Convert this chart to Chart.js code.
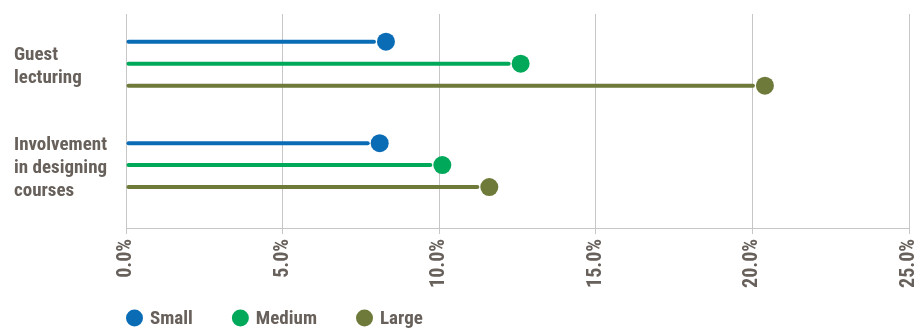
<!DOCTYPE html>
<html>
<head>
<meta charset="utf-8">
<title>Guest lecturing and course design by size</title>
<script src="https://cdn.jsdelivr.net/npm/chart.js@4/dist/chart.umd.min.js"></script>
<style>
  html, body { margin: 0; padding: 0; background: #ffffff; }
  #wrap { width: 921px; height: 330px; }
</style>
</head>
<body>
<div id="wrap"><canvas id="chart" width="921" height="330"></canvas></div>
<script>
// Categories (multi-line labels) and one value list per size group, in percent
const categories = [
  ['Guest', 'lecturing'],
  ['Involvement', 'in designing', 'courses']
];
const seriesNames = ['Small', 'Medium', 'Large'];
const small  = [8.3, 8.1];
const medium = [12.6, 10.1];
const large  = [20.4, 11.6];
const xTicks = [0, 5, 10, 15, 20, 25];

const seriesValues = [small, medium, large];
const seriesColors = ['#0b6cb6', '#00a85a', '#6d7a39'];
const textColor = '#67605b';
const gridColor = '#c6c6c6';
const fontFamily = '"Roboto Condensed", "Open Sans", sans-serif';

const DOT_R = 9;
const STEM_GAP = 12;

// Stems: drawn from each bar element's base to just short of its value
// Dots: drawn at each bar element's value, on top of the grid
const lollipop = {
  id: 'lollipop',
  beforeDatasetDraw(chart, args) {
    const ctx = chart.ctx;
    const color = chart.data.datasets[args.index].backgroundColor;
    ctx.save();
    ctx.strokeStyle = color;
    ctx.lineWidth = 4;
    ctx.lineCap = 'round';
    args.meta.data.forEach(el => {
      const p = el.getProps(['x', 'y', 'base'], true);
      ctx.beginPath();
      ctx.moveTo(p.base + 2, p.y);
      ctx.lineTo(p.x - STEM_GAP, p.y);
      ctx.stroke();
    });
    ctx.restore();
    return false;
  },
  afterDraw(chart) {
    const ctx = chart.ctx;
    ctx.save();
    chart.data.datasets.forEach((ds, i) => {
      const meta = chart.getDatasetMeta(i);
      ctx.fillStyle = ds.backgroundColor;
      meta.data.forEach(el => {
        const p = el.getProps(['x', 'y'], true);
        ctx.beginPath();
        ctx.arc(p.x, p.y, DOT_R, 0, Math.PI * 2);
        ctx.fill();
      });
    });

    // Legend row under the axis labels
    const cy = 318;
    let x = chart.chartArea.left;
    ctx.font = 'bold 19px ' + fontFamily;
    ctx.textBaseline = 'middle';
    ctx.textAlign = 'left';
    chart.data.datasets.forEach(ds => {
      ctx.fillStyle = ds.backgroundColor;
      ctx.beginPath();
      ctx.arc(x + 8.5, cy, 8.5, 0, Math.PI * 2);
      ctx.fill();
      ctx.fillStyle = textColor;
      ctx.fillText(ds.label, x + 24, cy + 1);
      x += 24 + ctx.measureText(ds.label).width + 39;
    });
    ctx.restore();
  }
};

new Chart(document.getElementById('chart'), {
  type: 'bar',
  data: {
    datasets: seriesNames.map((name, k) => ({
      label: name,
      data: seriesValues[k].map((v, i) => ({ x: v, y: i })),
      backgroundColor: seriesColors[k],
      categoryPercentage: 0.65,
      barPercentage: 0.2
    }))
  },
  options: {
    indexAxis: 'y',
    responsive: false,
    animation: false,
    devicePixelRatio: 1,
    layout: { padding: { top: 14, left: 14, right: 12, bottom: 38 } },
    plugins: {
      legend: { display: false },
      tooltip: { enabled: false }
    },
    scales: {
      y: {
        type: 'linear',
        reverse: true,
        offset: false,
        min: -0.49,
        max: 1.62,
        afterBuildTicks: s => { s.ticks = categories.map((c, i) => ({ value: i })); },
        afterFit: s => { s.width = 112; s.paddingTop = 0; s.paddingBottom = 0; },
        grid: { display: false },
        border: { display: false },
        ticks: {
          callback: (v, i) => categories[i],
          crossAlign: 'far',
          padding: 0,
          labelOffset: 3,
          color: textColor,
          font: { family: fontFamily, weight: 'bold', size: 19, lineHeight: 1.2 }
        }
      },
      x: {
        type: 'linear',
        position: 'bottom',
        offset: false,
        min: 0,
        max: 25,
        z: 1,
        afterBuildTicks: s => { s.ticks = xTicks.map(v => ({ value: v })); },
        afterFit: s => { s.height = 64; s.paddingLeft = 0; s.paddingRight = 0; },
        grid: { color: gridColor, lineWidth: 1, tickLength: 6, tickColor: gridColor },
        border: { color: gridColor, width: 1 },
        ticks: {
          callback: v => v.toFixed(1) + '%',
          minRotation: 90,
          maxRotation: 90,
          padding: 5,
          color: textColor,
          font: { family: fontFamily, weight: 'bold', size: 20 }
        }
      }
    }
  },
  plugins: [lollipop]
});
</script>
</body>
</html>
